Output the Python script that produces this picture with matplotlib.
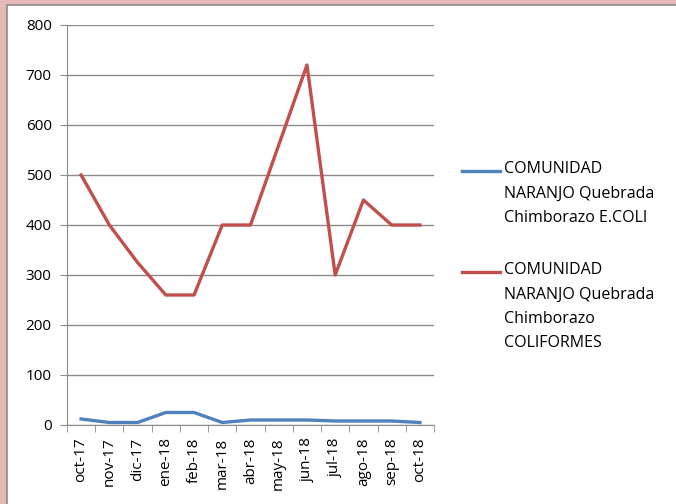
import numpy as np
import matplotlib.pyplot as plt
from matplotlib.patches import Rectangle
from matplotlib.lines import Line2D

meses = ['oct-17', 'nov-17', 'dic-17', 'ene-18', 'feb-18', 'mar-18', 'abr-18',
         'may-18', 'jun-18', 'jul-18', 'ago-18', 'sep-18', 'oct-18']
ecoli = [12, 5, 5, 25, 25, 5, 10, 10, 10, 8, 8, 8, 5]
coliformes = [500, 400, 325, 260, 260, 400, 400, 560, 720, 300, 450, 400, 400]
lab_ecoli = 'COMUNIDAD\nNARANJO Quebrada\nChimborazo E.COLI'
lab_coli = 'COMUNIDAD\nNARANJO Quebrada\nChimborazo\nCOLIFORMES'
azul = '#4F81BD'
rojo = '#C0504D'

plt.rcParams['font.family'] = ['Open Sans', 'DejaVu Sans']
fig = plt.figure(figsize=(6.76, 5.04), dpi=100)
fig.patch.set_facecolor('#E6B9B8')
W, H = 676, 504
fig.patches.append(Rectangle((7 / W, -0.1), 1.0, 1.1 - 5 / H, transform=fig.transFigure,
                             facecolor='white', edgecolor='#8C8C8C', lw=1.2, zorder=-5))

ax = fig.add_axes([67 / W, 1 - 425 / H, (434 - 67) / W, (425 - 25) / H])
ax.set_facecolor('none')
x = np.arange(len(meses))
ax.plot(x, ecoli, color=azul, lw=2.4, solid_joinstyle='round')
ax.plot(x, coliformes, color=rojo, lw=2.4, solid_joinstyle='round')

ax.set_xlim(-0.5, len(meses) - 0.5)
ax.set_ylim(0, 800)
ax.set_yticks(range(0, 801, 100))
ax.yaxis.grid(True, color='#8C8C8C', lw=1)
ax.set_axisbelow(True)
ax.set_xticks(x)
ax.set_xticklabels(meses, rotation=90, fontsize=11)
ax.set_xticks(np.arange(-0.5, len(meses)), minor=True)
ax.tick_params(axis='x', which='major', length=0, pad=9)
ax.tick_params(axis='x', which='minor', length=5, color='#8C8C8C')
ax.tick_params(axis='y', length=5, color='#8C8C8C', labelsize=11, pad=6)
for s in ['top', 'right']:
    ax.spines[s].set_visible(False)
for s in ['left', 'bottom']:
    ax.spines[s].set_color('#8C8C8C')

# leyenda a mano, con el trazo alineado a la primera linea
for y0, lab, col in [(171, lab_ecoli, azul), (272, lab_coli, rojo)]:
    fig.add_artist(Line2D([462 / W, 500 / W], [1 - y0 / H] * 2, color=col, lw=2.4,
                          transform=fig.transFigure))
    fig.text(504 / W, 1 - (y0 - 10) / H, lab, fontsize=11.5, va='top', ha='left',
             linespacing=1.7)

fig.savefig('out.png', dpi=100, facecolor=fig.get_facecolor())
